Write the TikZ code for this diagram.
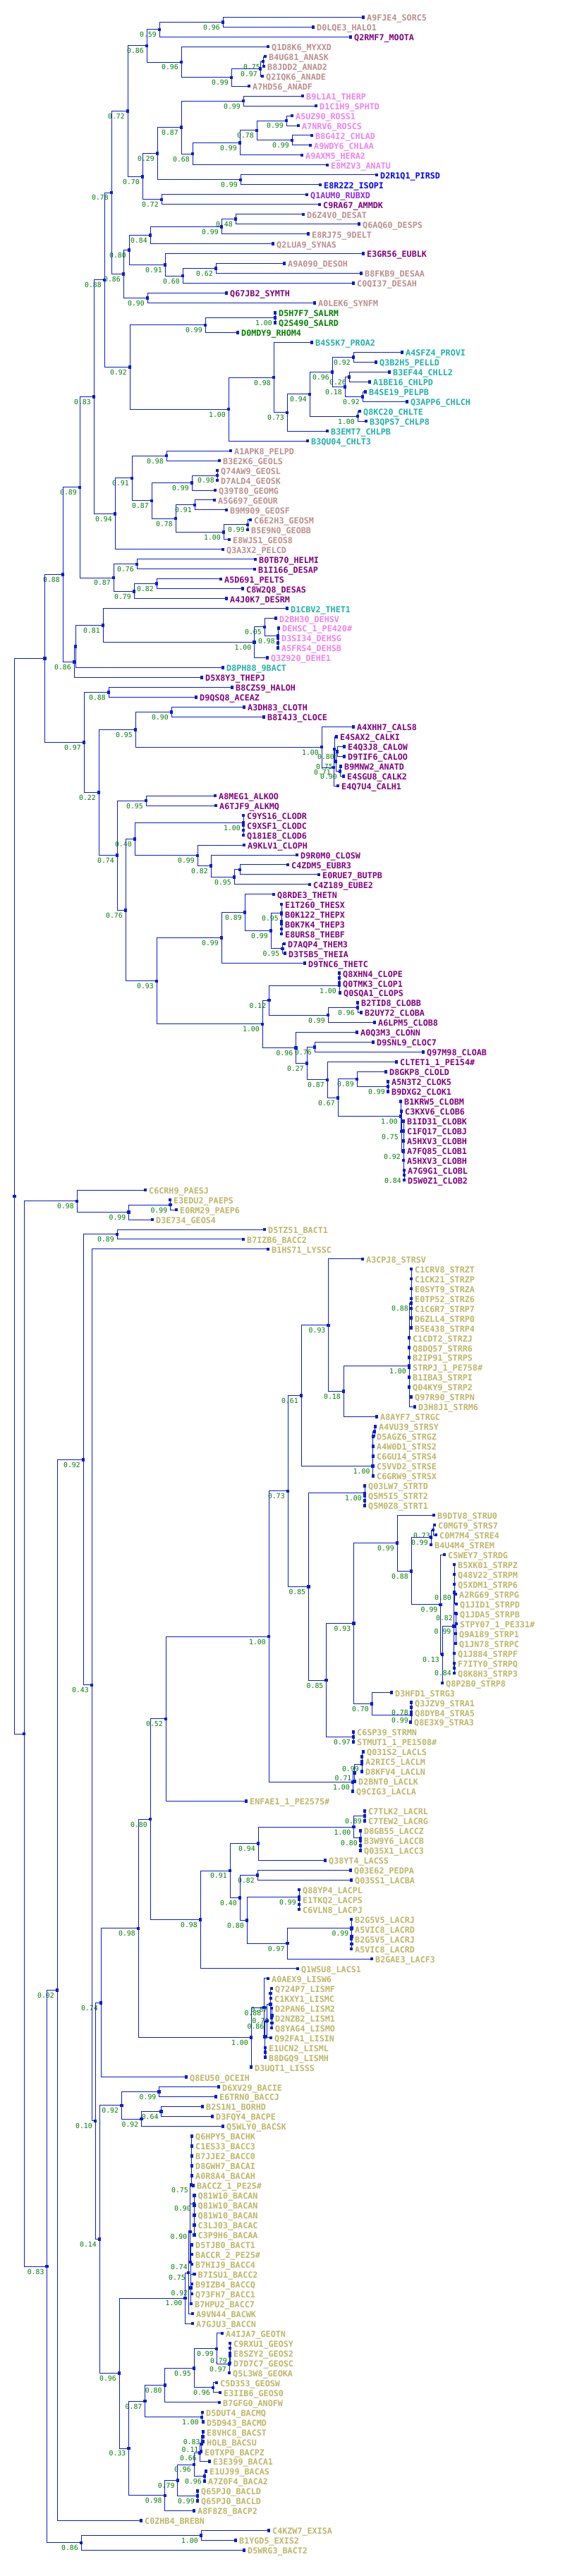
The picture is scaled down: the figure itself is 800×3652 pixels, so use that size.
\documentclass[tikz,border=0pt]{standalone}
\usepackage{fontspec}
\usetikzlibrary{calc}
\newfontfamily\monof{DejaVu Sans Mono}
\definecolor{ln}{RGB}{10,30,200}
\definecolor{rosy}{RGB}{188,143,143}
\definecolor{purp}{RGB}{128,0,128}
\definecolor{viol}{RGB}{238,130,238}
\definecolor{blu}{RGB}{0,0,255}
\definecolor{bviol}{RGB}{138,43,226}
\definecolor{grn}{RGB}{0,128,0}
\definecolor{tealc}{RGB}{32,178,170}
\definecolor{khak}{RGB}{189,183,107}
\definecolor{supc}{RGB}{0,128,0}
\tikzset{
  br/.style={draw=ln, line width=0.75pt},
  sq/.style={rectangle, fill=ln, draw=none, inner sep=0pt, minimum size=3.4pt},
  lab/.style={font=\monof\bfseries\fontsize{8.8pt}{10pt}\selectfont, inner sep=0pt, anchor=base west},
  sup/.style={font=\monof\fontsize{7.35pt}{9pt}\selectfont, text=supc, inner sep=0pt, anchor=base east}
}
\def\lc{rosy}
\newcommand\lf[3]{%
  \coordinate (L#1) at (#2,{24.3+13.973*#1});
  \node[sq] at (L#1) {};
  \node[lab,text=\lc] at ([xshift=3.7pt,yshift=-4pt]L#1) {#3};}
\newcommand\nd[6]{%
  \path let \p1=(#4), \p2=(#5) in ({#2*0.75pt},{(\y1+\y2)/2}) coordinate (#1);
  \foreach \ch in {#6} {\draw[br] (#1) |- (\ch);}
  \node[sq] at (#1) {};
  \ifx\relax#3\relax\else\node[sup] at ([xshift=-3pt,yshift=-8.2pt]#1) {#3};\fi}
\newcommand\ndy[5]{%
  \coordinate (#1) at (#2,#3);
  \foreach \ch in {#5} {\draw[br] (#1) |- (\ch);}
  \node[sq] at (#1) {};
  \ifx\relax#4\relax\else\node[sup] at ([xshift=-3pt,yshift=-8.2pt]#1) {#4};\fi}
\begin{document}
\begin{tikzpicture}[x=0.75pt,y=-0.75pt]
\fill[white] (0,0) rectangle (800,3652);
\path[use as bounding box] (0,0) rectangle (800,3652);
% ---------------- leaves
\def\lc{rosy}
\lf{0}{515}{A9FJE4\_SORC5}
\lf{1}{444}{D0LQE3\_HALO1}
\def\lc{purp}
\lf{2}{497}{Q2RMF7\_MOOTA}
\def\lc{rosy}
\lf{3}{380}{Q1D8K6\_MYXXD}
\lf{4}{376}{B4UG81\_ANASK}
\lf{5}{374}{B8JDD2\_ANAD2}
\lf{6}{372}{Q2IQK6\_ANADE}
\lf{7}{353}{A7HD56\_ANADF}
\def\lc{viol}
\lf{8}{429}{B9L1A1\_THERP}
\lf{9}{448}{D1C1H9\_SPHTD}
\lf{10}{414}{A5UZ90\_ROSS1}
\lf{11}{423}{A7NRV6\_ROSCS}
\lf{12}{442}{B8G4I2\_CHLAD}
\lf{13}{440}{A9WDY6\_CHLAA}
\lf{14}{428}{A9AXM5\_HERA2}
\lf{15}{464}{E8MZV3\_ANATU}
\def\lc{blu}
\lf{16}{534}{D2R1Q1\_PIRSD}
\lf{17}{454}{E8R2Z2\_ISOPI}
\def\lc{bviol}
\lf{18}{435}{Q1AUM0\_RUBXD}
\def\lc{purp}
\lf{19}{453}{C9RA67\_AMMDK}
\def\lc{rosy}
\lf{20}{430}{D6Z4V0\_DESAT}
\lf{21}{509}{Q6AQ60\_DESPS}
\lf{22}{437}{E8RJ75\_9DELT}
\lf{23}{387}{Q2LUA9\_SYNAS}
\def\lc{purp}
\lf{24}{515}{E3GR56\_EUBLK}
\def\lc{rosy}
\lf{25}{403}{A9A090\_DESOH}
\lf{26}{512}{B8FKB9\_DESAA}
\lf{27}{501}{C0QI37\_DESAH}
\def\lc{purp}
\lf{28}{321}{Q67JB2\_SYMTH}
\def\lc{rosy}
\lf{29}{446}{A0LEK6\_SYNFM}
\def\lc{grn}
\lf{30}{390}{D5H7F7\_SALRM}
\lf{31}{390}{Q2S490\_SALRD}
\lf{32}{337}{D0MDY9\_RHOM4}
\def\lc{tealc}
\lf{33}{442}{B4S5K7\_PROA2}
\lf{34}{570}{A4SFZ4\_PROVI}
\lf{35}{533}{Q3B2H5\_PELLD}
\lf{36}{552}{B3EF44\_CHLL2}
\lf{37}{524}{A1BE16\_CHLPD}
\lf{38}{518}{B4SE19\_PELPB}
\lf{39}{577}{Q3APP6\_CHLCH}
\lf{40}{510}{Q8KC20\_CHLTE}
\lf{41}{519}{B3QPS7\_CHLP8}
\lf{42}{464}{B3EMT7\_CHLPB}
\lf{43}{436}{B3QU04\_CHLT3}
\def\lc{rosy}
\lf{44}{327}{A1APK8\_PELPD}
\lf{45}{311}{B3E2K6\_GEOLS}
\lf{46}{308}{Q74AW9\_GEOSL}
\lf{47}{308}{D7ALD4\_GEOSK}
\lf{48}{305}{Q39T80\_GEOMG}
\lf{49}{304}{A5G697\_GEOUR}
\lf{50}{321}{B9M909\_GEOSF}
\lf{51}{355}{C6E2H3\_GEOSM}
\lf{52}{351}{B5E9N0\_GEOBB}
\lf{53}{325}{E8WJS1\_GEOS8}
\lf{54}{316}{Q3A3X2\_PELCD}
\def\lc{purp}
\lf{55}{362}{B0TB70\_HELMI}
\lf{56}{361}{B1I166\_DESAP}
\lf{57}{313}{A5D691\_PELTS}
\lf{58}{344}{C8W2Q8\_DESAS}
\lf{59}{321}{A4J0K7\_DESRM}
\def\lc{tealc}
\lf{60}{407}{D1CBV2\_THET1}
\def\lc{viol}
\lf{61}{391}{D2BH30\_DEHSV}
\lf{62}{395}{DEHSC\_1\_PE420\#}
\lf{63}{394}{D3SI34\_DEHSG}
\lf{64}{394}{A5FRS4\_DEHSB}
\lf{65}{379}{Q3Z920\_DEHE1}
\def\lc{tealc}
\lf{66}{316}{D8PH88\_9BACT}
\def\lc{purp}
\lf{67}{286}{D5X8Y3\_THEPJ}
\lf{68}{329}{B8CZS9\_HALOH}
\lf{69}{278}{D9QSQ8\_ACEAZ}
\lf{70}{346}{A3DH83\_CLOTH}
\lf{71}{374}{B8I4J3\_CLOCE}
\lf{72}{501}{A4XHH7\_CALS8}
\lf{73}{477}{E4SAX2\_CALKI}
\lf{74}{488}{E4Q3J8\_CALOW}
\lf{75}{488}{D9TIF6\_CALOO}
\lf{76}{483}{B9MNW2\_ANATD}
\lf{77}{487}{E4SGU8\_CALK2}
\lf{78}{479}{E4Q7U4\_CALH1}
\lf{79}{305}{A8MEG1\_ALKOO}
\lf{80}{306}{A6TJF9\_ALKMQ}
\lf{81}{345}{C9YS16\_CLODR}
\lf{82}{345}{C9XSF1\_CLODC}
\lf{83}{345}{Q181E8\_CLOD6}
\lf{84}{346}{A9KLV1\_CLOPH}
\lf{85}{421}{D9R0M0\_CLOSW}
\lf{86}{408}{C4ZDM5\_EUBR3}
\lf{87}{452}{E0RUE7\_BUTPB}
\lf{88}{439}{C4Z189\_EUBE2}
\lf{89}{388}{Q8RDE3\_THETN}
\lf{90}{399}{E1T260\_THESX}
\lf{91}{399}{B0K122\_THEPX}
\lf{92}{399}{B0K7K4\_THEP3}
\lf{93}{399}{E8URS8\_THEBF}
\lf{94}{403}{D7AQP4\_THEM3}
\lf{95}{404}{D3T5B5\_THEIA}
\lf{96}{432}{D9TNC6\_THETC}
\lf{97}{481}{Q8XHN4\_CLOPE}
\lf{98}{481}{Q0TMK3\_CLOP1}
\lf{99}{482}{Q0SQA1\_CLOPS}
\lf{100}{507}{B2TID8\_CLOBB}
\lf{101}{512}{B2UY72\_CLOBA}
\lf{102}{531}{A6LPM5\_CLOB8}
\lf{103}{506}{A0Q3M3\_CLONN}
\lf{104}{529}{D9SNL9\_CLOC7}
\lf{105}{600}{Q97M98\_CLOAB}
\lf{106}{562}{CLTET1\_1\_PE154\#}
\lf{107}{547}{D8GKP8\_CLOLD}
\lf{108}{550}{A5N3T2\_CLOK5}
\lf{109}{550}{B9DXG2\_CLOK1}
\lf{110}{568}{B1KRW5\_CLOBM}
\lf{111}{569}{C3KXV6\_CLOB6}
\lf{112}{572}{B1ID31\_CLOBK}
\lf{113}{572}{C1FQ17\_CLOBJ}
\lf{114}{572}{A5HXV3\_CLOBH}
\lf{115}{572}{A7FQ85\_CLOB1}
\lf{116}{572}{A5HXV3\_CLOBH}
\lf{117}{573}{A7G9G1\_CLOBL}
\lf{118}{573}{D5W0Z1\_CLOB2}
\def\lc{khak}
\lf{119}{206}{C6CRH9\_PAESJ}
\lf{120}{241}{E3EDU2\_PAEPS}
\lf{121}{250}{E0RM29\_PAEP6}
\lf{122}{216}{D3E734\_GEOS4}
\lf{123}{375}{D5TZ51\_BACT1}
\lf{124}{345}{B7IZB6\_BACC2}
\lf{125}{380}{B1HS71\_LYSSC}
\lf{126}{514}{A3CPJ8\_STRSV}
\lf{127}{583}{C1CRV8\_STRZT}
\lf{128}{583}{C1CK21\_STRZP}
\lf{129}{583}{E0SYT9\_STRZA}
\lf{130}{583}{E0TP52\_STRZ6}
\lf{131}{583}{C1C6R7\_STRP7}
\lf{132}{583}{D6ZLL4\_STRP0}
\lf{133}{583}{B5E438\_STRP4}
\lf{134}{580}{C1CDT2\_STRZJ}
\lf{135}{580}{Q8DQ57\_STRR6}
\lf{136}{580}{B2IP91\_STRPS}
\lf{137}{580}{STRPJ\_1\_PE758\#}
\lf{138}{580}{B1IBA3\_STRPI}
\lf{139}{580}{Q04KY9\_STRP2}
\lf{140}{583}{Q97R90\_STRPN}
\lf{141}{588}{D3H8J1\_STRM6}
\lf{142}{534}{A8AYF7\_STRGC}
\lf{143}{532}{A4VU39\_STRSY}
\lf{144}{529}{D5AGZ6\_STRGZ}
\lf{145}{529}{A4W0D1\_STRS2}
\lf{146}{529}{C6GU14\_STRS4}
\lf{147}{529}{C5VVD2\_STRSE}
\lf{148}{529}{C6GRW9\_STRSX}
\lf{149}{517}{Q03LW7\_STRTD}
\lf{150}{517}{Q5M5I5\_STRT2}
\lf{151}{517}{Q5M0Z8\_STRT1}
\lf{152}{615}{B9DTV8\_STRU0}
\lf{153}{616}{C0MGT9\_STRS7}
\lf{154}{618}{C0M7M4\_STRE4}
\lf{155}{611}{B4U4M4\_STREM}
\lf{156}{630}{C5WEY7\_STRDG}
\lf{157}{644}{B5XK01\_STRPZ}
\lf{158}{644}{Q48V22\_STRPM}
\lf{159}{644}{Q5XDM1\_STRP6}
\lf{160}{646}{A2RG69\_STRPG}
\lf{161}{647}{Q1JID1\_STRPD}
\lf{162}{647}{Q1JDA5\_STRPB}
\lf{163}{647}{STPY07\_1\_PE331\#}
\lf{164}{646}{Q9A189\_STRP1}
\lf{165}{646}{Q1JN78\_STRPC}
\lf{166}{644}{Q1J884\_STRPF}
\lf{167}{644}{F7ITY0\_STRPQ}
\lf{168}{644}{Q8K8H3\_STRP3}
\lf{169}{627}{Q8P2B0\_STRP8}
\lf{170}{555}{D3HFD1\_STRG3}
\lf{171}{583}{Q3JZV9\_STRA1}
\lf{172}{583}{Q8DYB4\_STRA5}
\lf{173}{582}{Q8E3X9\_STRA3}
\lf{174}{501}{C6SP39\_STRMN}
\lf{175}{501}{STMUT1\_1\_PE1508\#}
\lf{176}{515}{Q031S2\_LACLS}
\lf{177}{513}{A2RIC5\_LACLM}
\lf{178}{513}{D8KFV4\_LACLN}
\lf{179}{503}{D2BNT0\_LACLK}
\lf{180}{500}{Q9CIG3\_LACLA}
\lf{181}{349}{ENFAE1\_1\_PE2575\#}
\lf{182}{517}{C7TLK2\_LACRL}
\lf{183}{517}{C7TEW2\_LACRG}
\lf{184}{511}{D8GB55\_LACCZ}
\lf{185}{511}{B3W9Y6\_LACCB}
\lf{186}{511}{Q035X1\_LACC3}
\lf{187}{461}{Q38YT4\_LACSS}
\lf{188}{497}{Q03E62\_PEDPA}
\lf{189}{498}{Q03SS1\_LACBA}
\lf{190}{424}{Q88YP4\_LACPL}
\lf{191}{424}{E1TKQ2\_LACPS}
\lf{192}{424}{C6VLN8\_LACPJ}
\lf{193}{498}{B2G5V5\_LACRJ}
\lf{194}{498}{A5VIC8\_LACRD}
\lf{195}{498}{B2G5V5\_LACRJ}
\lf{196}{498}{A5VIC8\_LACRD}
\lf{197}{527}{B2GAE3\_LACF3}
\lf{198}{422}{Q1WSU8\_LACS1}
\lf{199}{380}{A0AEX9\_LISW6}
\lf{200}{385}{Q724P7\_LISMF}
\lf{201}{384}{C1KXY1\_LISMC}
\lf{202}{385}{D2PAN6\_LISM2}
\lf{203}{385}{D2NZB2\_LISM1}
\lf{204}{385}{Q8YAG4\_LISMO}
\lf{205}{384}{Q92FA1\_LISIN}
\lf{206}{376}{E1UCN2\_LISML}
\lf{207}{376}{B8DGQ9\_LISMH}
\lf{208}{356}{D3UQT1\_LISSS}
\lf{209}{264}{Q8EU50\_OCEIH}
\lf{210}{310}{D6XV29\_BACIE}
\lf{211}{306}{E6TRN0\_BACCJ}
\lf{212}{287}{B2S1N1\_BORHD}
\lf{213}{301}{D3FQY4\_BACPE}
\lf{214}{316}{Q5WLY0\_BACSK}
\lf{215}{272}{Q6HPY5\_BACHK}
\lf{216}{272}{C1ES33\_BACC3}
\lf{217}{272}{B7JJE2\_BACC0}
\lf{218}{272}{D8GWH7\_BACAI}
\lf{219}{272}{A0R8A4\_BACAH}
\lf{220}{274}{BACCZ\_1\_PE25\#}
\lf{221}{275.5}{Q81W10\_BACAN}
\lf{222}{275.5}{Q81W10\_BACAN}
\lf{223}{275.5}{Q81W10\_BACAN}
\lf{224}{275.5}{C3LJ03\_BACAC}
\lf{225}{275.5}{C3P9H6\_BACAA}
\lf{226}{272}{D5TJB0\_BACT1}
\lf{227}{272}{BACCR\_2\_PE25\#}
\lf{228}{272}{B7HIJ9\_BACC4}
\lf{229}{275.5}{B7ISU1\_BACC2}
\lf{230}{272}{B9IZB4\_BACCQ}
\lf{231}{272}{Q73FH7\_BACC1}
\lf{232}{271}{B7HPU2\_BACC7}
\lf{233}{273}{A9VN44\_BACWK}
\lf{234}{273}{A7GJU3\_BACCN}
\lf{235}{315}{A4IJA7\_GEOTN}
\lf{236}{326}{C9RXU1\_GEOSY}
\lf{237}{326}{E8SZY2\_GEOS2}
\lf{238}{326}{D7D7C7\_GEOSC}
\lf{239}{325}{Q5L3W8\_GEOKA}
\lf{240}{307}{C5D353\_GEOSW}
\lf{241}{312}{E3IIB6\_GEOS0}
\lf{242}{311}{B7GFG0\_ANOFW}
\lf{243}{287}{D5DUT4\_BACMQ}
\lf{244}{288}{D5D943\_BACMD}
\lf{245}{288}{E8VHC8\_BACST}
\lf{246}{288}{HOLB\_BACSU}
\lf{247}{285}{E0TXP0\_BACPZ}
\lf{248}{297}{E3E399\_BACA1}
\lf{249}{292}{E1UJ99\_BACAS}
\lf{250}{290}{A7Z0F4\_BACA2}
\lf{251}{280}{Q65PJ0\_BACLD}
\lf{252}{280}{Q65PJ0\_BACLD}
\lf{253}{275}{A8F8Z8\_BACP2}
\lf{254}{200}{C0ZHB4\_BREBN}
\lf{255}{381}{C4KZW7\_EXISA}
\lf{256}{334}{B1YGD5\_EXIS2}
\lf{257}{346}{D5WRG3\_BACT2}
% ---------------- internal nodes, upper tree
\nd{a1}{316}{0.96}{L0}{L1}{L0,L1}
\nd{a2}{226}{0.59}{a1}{L2}{a1,L2}
\nd{a3}{373}{0.75}{L4}{L5}{L4,L5}
\nd{a4}{369}{0.97}{a3}{L6}{a3,L6}
\nd{a5}{328}{0.99}{a4}{L7}{a4,L7}
\nd{a6}{257}{0.96}{L3}{a5}{L3,a5}
\nd{a7}{208}{0.86}{a2}{a6}{a2,a6}
\nd{b1}{345}{0.99}{L8}{L9}{L8,L9}
\nd{b2}{406}{0.99}{L10}{L11}{L10,L11}
\nd{b3}{414}{0.99}{L12}{L13}{L12,L13}
\nd{b4}{364}{0.78}{b2}{b3}{b2,b3}
\nd{b5}{340}{0.99}{b4}{L14}{b4,L14}
\nd{b6}{273}{0.68}{b5}{L15}{b5,L15}
\nd{b7}{257}{0.87}{b1}{b6}{b1,b6}
\nd{b8}{341}{0.99}{L16}{L17}{L16,L17}
\nd{b9}{223}{0.29}{b7}{b8}{b7,b8}
\nd{b10}{229}{0.72}{L18}{L19}{L18,L19}
\nd{b11}{202}{0.70}{b9}{b10}{b9,b10}
\nd{b12}{181}{0.72}{a7}{b11}{a7,b11}
\nd{c1}{334}{0.48}{L20}{L21}{L20,L21}
\nd{c2}{314}{0.99}{c1}{L22}{c1,L22}
\nd{c3}{213}{0.84}{c2}{L23}{c2,L23}
\nd{c4}{306}{0.62}{L25}{L26}{L25,L26}
\nd{c5}{259}{0.60}{c4}{L27}{c4,L27}
\nd{c6}{234}{0.91}{L24}{c5}{L24,c5}
\nd{c7}{183}{0.80}{c3}{c6}{c3,c6}
\nd{c8}{209}{0.90}{L28}{L29}{L28,L29}
\nd{c9}{175}{0.86}{c7}{c8}{c7,c8}
\nd{c10}{158}{0.78}{b12}{c9}{b12,c9}
\nd{d1}{390}{1.00}{L30}{L31}{L30,L31}
\nd{d2}{291}{0.99}{d1}{L32}{d1,L32}
\nd{d3}{501}{0.92}{L34}{L35}{L34,L35}
\nd{d4}{495}{0.26}{L36}{L37}{L36,L37}
\nd{d5}{514}{0.92}{L38}{L39}{L38,L39}
\nd{d6}{489}{0.18}{d4}{d5}{d4,d5}
\nd{d7}{471}{0.96}{d3}{d6}{d3,d6}
\nd{d8}{507}{1.00}{L40}{L41}{L40,L41}
\nd{d9}{439}{0.94}{d7}{d8}{d7,d8}
\nd{d10}{407}{0.73}{d9}{L42}{d9,L42}
\nd{d11}{388}{0.98}{L33}{d10}{L33,d10}
\nd{d12}{324}{1.00}{d11}{L43}{d11,L43}
\nd{d13}{184}{0.92}{d2}{d12}{d2,d12}
\nd{d14}{148}{0.88}{c10}{d13}{c10,d13}
\nd{e1}{236}{0.98}{L44}{L45}{L44,L45}
\nd{e2}{308}{0.98}{L46}{L47}{L46,L47}
\nd{e3}{272}{0.99}{e2}{L48}{e2,L48}
\nd{e4}{276}{0.91}{L49}{L50}{L49,L50}
\nd{e5}{351}{0.99}{L51}{L52}{L51,L52}
\nd{e6}{317}{1.00}{e5}{L53}{e5,L53}
\nd{e7}{249}{0.78}{e4}{e6}{e4,e6}
\nd{e8}{215}{0.87}{e3}{e7}{e3,e7}
\nd{e9}{187}{0.91}{e1}{e8}{e1,e8}
\nd{e10}{163}{0.94}{e9}{L54}{e9,L54}
\nd{e11}{133}{0.83}{d14}{e10}{d14,e10}
\nd{f1}{194}{0.76}{L55}{L56}{L55,L56}
\nd{f2}{222}{0.82}{L57}{L58}{L57,L58}
\nd{f3}{190}{0.79}{f2}{L59}{f2,L59}
\nd{f4}{161}{0.87}{f1}{f3}{f1,f3}
\nd{f5}{113}{0.89}{e11}{f4}{e11,f4}
\nd{g1}{394}{}{L63}{L64}{L63,L64}
\nd{g2}{394}{0.98}{L62}{g1}{L62,g1}
\nd{g3}{375}{0.05}{L61}{g2}{L61,g2}
\nd{g4}{360.5}{1.00}{g3}{L65}{g3,L65}
\nd{g5}{146}{0.81}{L60}{g4}{L60,g4}
\nd{g6}{107}{}{g5}{L66}{g5,L66}
\nd{g7}{105}{0.86}{g6}{L67}{g6,L67}
\nd{g8}{89}{0.88}{f5}{g7}{f5,g7}
\nd{h1}{154}{0.88}{L68}{L69}{L68,L69}
\nd{h2}{243}{0.90}{L70}{L71}{L70,L71}
\nd{h3}{478}{0.80}{L74}{L75}{L74,L75}
\nd{h4}{482}{0.90}{L76}{L77}{L76,L77}
\nd{h5}{476}{0.75}{h3}{h4}{h3,h4}
\nd{h6}{474}{}{L73}{h5}{L73,h5}
\nd{h7}{473}{0.71}{h6}{L78}{h6,L78}
\nd{h8}{456}{1.00}{L72}{h7}{L72,h7}
\nd{h9}{192}{0.95}{h2}{h8}{h2,h8}
\nd{i1}{207}{0.95}{L79}{L80}{L79,L80}
\nd{i2}{345}{}{L82}{L83}{L82,L83}
\nd{i3}{345}{1.00}{L81}{i2}{L81,i2}
\nd{i4}{340}{}{L86}{L87}{L86,L87}
\nd{i5}{332}{0.95}{i4}{L88}{i4,L88}
\nd{i6}{299}{0.82}{L85}{i5}{L85,i5}
\nd{i7}{280}{0.99}{L84}{i6}{L84,i6}
\nd{i8}{191}{0.40}{i3}{i7}{i3,i7}
\nd{j1}{399}{}{L92}{L93}{L92,L93}
\nd{j2}{399}{}{L91}{j1}{L91,j1}
\nd{j3}{399}{0.95}{L90}{j2}{L90,j2}
\nd{j4}{400.5}{0.95}{L94}{L95}{L94,L95}
\nd{j5}{384}{0.99}{j3}{j4}{j3,j4}
\nd{j6}{347}{0.89}{L89}{j5}{L89,j5}
\nd{j7}{314}{0.99}{j6}{L96}{j6,L96}
\nd{k1}{481}{}{L97}{L98}{L97,L98}
\nd{k2}{481}{1.00}{k1}{L99}{k1,L99}
\nd{k3}{507}{0.96}{L100}{L101}{L100,L101}
\nd{k4}{465}{0.99}{k3}{L102}{k3,L102}
\nd{k5}{381.5}{0.12}{k2}{k4}{k2,k4}
\nd{k6}{446}{0.76}{L104}{L105}{L104,L105}
\nd{k7}{550}{0.99}{L108}{L109}{L108,L109}
\nd{k8}{506}{0.89}{L107}{k7}{L107,k7}
\nd{k9}{573}{0.84}{L117}{L118}{L117,L118}
\ndy{k10}{572}{1633}{0.92}{L112,L113,L114,L115,L116,k9}
\nd{k11}{569}{0.75}{L111}{k10}{L111,k10}
\nd{k12}{568}{1.00}{L110}{k11}{L110,k11}
\nd{k13}{479}{0.67}{k8}{k12}{k8,k12}
\nd{k14}{464}{0.87}{L106}{k13}{L106,k13}
\nd{k15}{435}{0.27}{k6}{k14}{k6,k14}
\nd{k16}{419.5}{0.96}{L103}{k15}{L103,k15}
\nd{k17}{372}{1.00}{k5}{k16}{k5,k16}
\nd{k18}{222}{0.93}{j7}{k17}{j7,k17}
\nd{k19}{178}{0.76}{i8}{k18}{i8,k18}
\nd{k20}{166}{0.74}{i1}{k19}{i1,k19}
\nd{k21}{140}{0.22}{h9}{k20}{h9,k20}
\nd{k22}{119}{0.97}{h1}{k21}{h1,k21}
\nd{top}{63.6}{}{g8}{k22}{g8,k22}
% ---------------- internal nodes, lower tree
\nd{m1}{241.5}{0.99}{L120}{L121}{L120,L121}
\nd{m2}{182.5}{0.99}{m1}{L122}{m1,L122}
\nd{m3}{109}{0.98}{L119}{m2}{L119,m2}
\nd{m4}{166}{0.89}{L123}{L124}{L123,L124}
\ndy{s1}{583}{1847.3}{0.88}{L127,L128,L129,L130,L131,L132,L133}
\ndy{s2}{580}{1936.7}{1.00}{s1,L134,L135,L136,L137,L138,L139,L140,L141}
\nd{s3}{487}{0.18}{s2}{L142}{s2,L142}
\nd{s4}{465.6}{0.93}{L126}{s3}{L126,s3}
\nd{s5}{531}{}{L143}{L144}{L143,L144}
\ndy{s6}{528.7}{2078.3}{1.00}{s5,L145,L146,L147,L148}
\nd{s7}{427}{0.61}{s4}{s6}{s4,s6}
\nd{s8}{517}{}{L150}{L151}{L150,L151}
\nd{s9}{517}{1.00}{L149}{s8}{L149,s8}
\nd{s10}{614}{0.73}{L153}{L154}{L153,L154}
\nd{s11}{611}{0.99}{s10}{L155}{s10,L155}
\ndy{s12}{644}{2257.3}{0.80}{L157,L158,L159,L160,L161}
\ndy{s13}{646}{2287}{0.82}{L162,L163,L164,L165}
\nd{s14}{644}{0.84}{L167}{L168}{L167,L168}
\ndy{s15}{643.6}{2305.3}{0.99}{s12,s13,L166,s14}
\nd{s16}{627}{0.13}{s15}{L169}{s15,L169}
\nd{s17}{624.6}{0.99}{L156}{s16}{L156,s16}
\nd{s18}{583}{0.88}{s11}{s17}{s11,s17}
\nd{s19}{563}{0.99}{L152}{s18}{L152,s18}
\nd{s20}{583}{0.78}{L171}{L172}{L171,L172}
\nd{s21}{583}{0.99}{s20}{L173}{s20,L173}
\nd{s22}{527}{0.70}{L170}{s21}{L170,s21}
\nd{s23}{501.5}{0.93}{s19}{s22}{s19,s22}
\nd{s24}{501}{0.97}{L174}{L175}{L174,L175}
\nd{s25}{462.6}{0.85}{s23}{s24}{s23,s24}
\nd{s26}{437.4}{0.85}{s9}{s25}{s9,s25}
\nd{s27}{408}{0.73}{s7}{s26}{s7,s26}
\nd{t1}{513}{}{L176}{L177}{L176,L177}
\nd{t2}{513}{0.99}{t1}{L178}{t1,L178}
\nd{t3}{502.6}{0.71}{t2}{L179}{t2,L179}
\nd{t4}{500}{1.00}{t3}{L180}{t3,L180}
\nd{t5}{381}{1.00}{s27}{t4}{s27,t4}
\nd{t6}{235}{0.52}{t5}{L181}{t5,L181}
\nd{u1}{517}{0.89}{L182}{L183}{L182,L183}
\nd{u2}{511}{}{L185}{L186}{L185,L186}
\nd{u3}{511}{0.80}{L184}{u2}{L184,u2}
\nd{u4}{501.5}{1.00}{u1}{u3}{u1,u3}
\nd{u5}{366}{0.94}{u4}{L187}{u4,L187}
\nd{u6}{365}{0.82}{L188}{L189}{L188,L189}
\nd{u7}{424}{}{L191}{L192}{L191,L192}
\nd{u8}{424}{0.99}{L190}{u7}{L190,u7}
\nd{u9}{498.5}{}{L195}{L196}{L195,L196}
\nd{u10}{498.5}{}{L194}{u9}{L194,u9}
\nd{u11}{498.5}{0.99}{L193}{u10}{L193,u10}
\nd{u12}{407.7}{0.97}{u11}{L197}{u11,L197}
\nd{u13}{350}{0.80}{u8}{u12}{u8,u12}
\nd{u14}{340}{0.40}{u6}{u13}{u6,u13}
\nd{u15}{326}{0.91}{u5}{u14}{u5,u14}
\nd{u16}{284}{0.98}{u15}{L198}{u15,L198}
\nd{u17}{213}{0.80}{t6}{u16}{t6,u16}
\nd{v1}{383.6}{}{L200}{L201}{L200,L201}
\nd{v2}{385.6}{}{L203}{L204}{L203,L204}
\nd{v3}{385.6}{0.70}{L202}{v2}{L202,v2}
\nd{v4}{383.6}{0.87}{v1}{v3}{v1,v3}
\nd{v5}{378.5}{0.86}{v4}{L205}{v4,L205}
\nd{v6}{376}{}{L206}{L207}{L206,L207}
\nd{v7}{375.5}{}{v5}{v6}{v5,v6}
\nd{v8}{374.5}{0.88}{L199}{v7}{L199,v7}
\nd{v9}{356}{1.00}{v8}{L208}{v8,L208}
\nd{v10}{196}{0.98}{u17}{v9}{u17,v9}
\nd{v11}{143}{0.74}{v10}{L209}{v10,L209}
\nd{w1}{225.6}{0.99}{L210}{L211}{L210,L211}
\nd{w2}{228.7}{0.64}{L212}{L213}{L212,L213}
\nd{w3}{200.5}{0.92}{w2}{L214}{w2,L214}
\nd{w4}{172.3}{0.92}{w1}{w3}{w1,w3}
\ndy{w5}{271}{3097.3}{0.75}{L215,L216,L217,L218,L219,L220}
\ndy{w6}{275}{3124}{0.90}{L221,L222,L223,L224,L225}
\ndy{w7}{270.5}{3243.7}{0.92}{L229,L230,L231,L232}
\ndy{w8}{270}{3207}{0.74}{L226,L227,L228,w7}
\ndy{w9}{269.5}{3164}{0.90}{w5,w6,w8}
\nd{w10}{267}{0.75}{w9}{L233}{w9,L233}
\nd{w11}{262.6}{1.00}{w10}{L234}{w10,L234}
\nd{x1}{326}{}{L236}{L237}{L236,L237}
\nd{x2}{326}{0.79}{x1}{L238}{x1,L238}
\nd{x3}{325}{0.97}{x2}{L239}{x2,L239}
\nd{x4}{307}{0.99}{L235}{x3}{L235,x3}
\nd{x5}{302}{0.96}{L240}{L241}{L240,L241}
\nd{x6}{275}{0.95}{x4}{x5}{x4,x5}
\nd{x7}{233.8}{0.80}{x6}{L242}{x6,L242}
\nd{x8}{286}{1.00}{L243}{L244}{L243,L244}
\nd{x9}{205.6}{0.87}{x7}{x8}{x7,x8}
\nd{x10}{287.7}{0.83}{L245}{L246}{L245,L246}
\nd{x11}{285.6}{0.11}{x10}{L247}{x10,L247}
\nd{x12}{283}{0.66}{x11}{L248}{x11,L248}
\nd{x13}{290}{0.96}{L249}{L250}{L249,L250}
\nd{x14}{275}{0.96}{x12}{x13}{x12,x13}
\nd{x15}{280}{0.99}{L251}{L252}{L251,L252}
\nd{x16}{251.8}{0.79}{x14}{x15}{x14,x15}
\nd{x17}{233.8}{0.98}{x16}{L253}{x16,L253}
\nd{x18}{182.6}{0.33}{x9}{x17}{x9,x17}
\nd{x19}{169}{0.96}{w11}{x18}{w11,x18}
\nd{x20}{141}{0.14}{w4}{x19}{w4,x19}
\nd{x21}{135}{0.10}{v11}{x20}{v11,x20}
\nd{x22}{130}{0.43}{L125}{x21}{L125,x21}
\nd{x23}{118}{0.92}{m4}{x22}{m4,x22}
\nd{x24}{81}{0.02}{x23}{L254}{x23,L254}
\nd{y1}{285}{1.00}{L255}{L256}{L255,L256}
\nd{y2}{115}{0.86}{y1}{L257}{y1,L257}
\nd{y3}{66.7}{0.83}{x24}{y2}{x24,y2}
\nd{bot}{34}{}{m3}{y3}{m3,y3}
\nd{root}{20.5}{}{top}{bot}{top,bot}
\end{tikzpicture}
\end{document}
